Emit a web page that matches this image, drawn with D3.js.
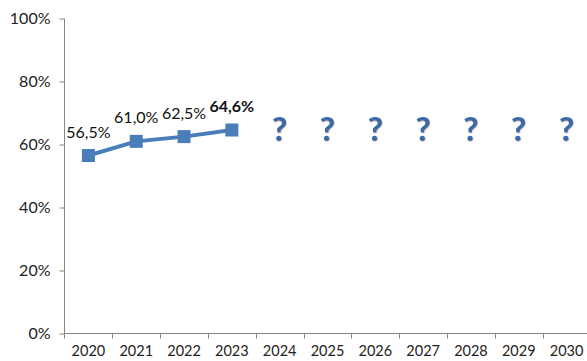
<!DOCTYPE html>
<html>
<head>
<meta charset="utf-8">
<script src="https://cdn.jsdelivr.net/npm/d3@7/dist/d3.min.js"></script>
<style>
  body { margin: 0; background: #fff; }
  text { font-family: Lato, "Open Sans", sans-serif; }
</style>
</head>
<body>
<div id="chart"></div>
<script>
// chart data
var years = ["2020", "2021", "2022", "2023", "2024", "2025", "2026", "2027", "2028", "2029", "2030"];
var knownYears = ["2020", "2021", "2022", "2023"];
var knownValues = [56.5, 61.0, 62.5, 64.6];
var valueLabels = ["56,5%", "61,0%", "62,5%", "64,6%"];
var unknownYears = ["2024", "2025", "2026", "2027", "2028", "2029", "2030"];
var unknownValue = 65.5;
var yTicks = [0, 20, 40, 60, 80, 100];

var W = 587, H = 361;
var axisColor = "#868686", lineColor = "#4a7ebb";

var svg = d3.select("#chart").append("svg").attr("width", W).attr("height", H);

var x = d3.scaleBand().domain(years).range([64.5, 590.5]);
var y = d3.scaleLinear().domain([0, 100]).range([333.5, 18.5]);

// y axis
var yAxis = d3.axisLeft(y).tickValues(yTicks).tickSize(5).tickPadding(9)
  .tickFormat(function(d) { return d + "%"; });
var gy = svg.append("g").attr("transform", "translate(64.5,0)").call(yAxis);
gy.select(".domain").attr("stroke", axisColor).attr("d", "M0," + y(100) + "V" + y(0));
gy.selectAll(".tick line").attr("stroke", axisColor);
gy.selectAll(".tick text").attr("fill", "#222").style("font-size", "16px");

// x axis: ticks between categories
var gx = svg.append("g").attr("transform", "translate(0," + y(0) + ")");
gx.append("line").attr("x1", 64.5).attr("x2", W).attr("stroke", axisColor).attr("stroke-width", 1.2);
gx.selectAll(".xt").data(years).enter().append("line")
  .attr("x1", function(d) { return Math.round(x(d) + x.bandwidth()) + 0.5; })
  .attr("x2", function(d) { return Math.round(x(d) + x.bandwidth()) + 0.5; })
  .attr("y1", 0).attr("y2", 5).attr("stroke", axisColor);
gx.append("line").attr("x1", 64.5).attr("x2", 64.5).attr("y1", 0).attr("y2", 5).attr("stroke", axisColor);
gx.selectAll(".xl").data(years).enter().append("text")
  .attr("x", function(d) { return x(d) + x.bandwidth() / 2; })
  .attr("y", 22).attr("text-anchor", "middle").attr("fill", "#222")
  .style("font-size", "14.5px").text(function(d) { return d; });

// line + markers
var pts = knownYears.map(function(d, i) { return [x(d) + x.bandwidth() / 2, y(knownValues[i])]; });
svg.append("path").attr("d", d3.line()(pts)).attr("fill", "none")
  .attr("stroke", lineColor).attr("stroke-width", 4);
svg.selectAll(".mk").data(pts).enter().append("rect")
  .attr("x", function(d) { return d[0] - 6.5; }).attr("y", function(d) { return d[1] - 6.5; })
  .attr("width", 13).attr("height", 13).attr("fill", lineColor);

// value labels
svg.selectAll(".vl").data(pts).enter().append("text")
  .attr("x", function(d) { return d[0]; }).attr("y", function(d) { return d[1] - 18; })
  .attr("text-anchor", "middle").attr("fill", "#111").style("font-size", "16px")
  .style("font-weight", function(d, i) { return i == pts.length - 1 ? "bold" : "normal"; })
  .text(function(d, i) { return valueLabels[i]; });

// question marks for unknown years
var defs = svg.append("defs");
var f = defs.append("filter").attr("id", "sh").attr("x", "-20%").attr("y", "-20%").attr("width", "140%").attr("height", "140%");
f.append("feDropShadow").attr("dx", 0.6).attr("dy", 0.8).attr("stdDeviation", 0.6).attr("flood-color", "#c98a70").attr("flood-opacity", 0.5);
svg.selectAll(".q").data(unknownYears).enter().append("text")
  .attr("x", function(d) { return x(d) + x.bandwidth() / 2; })
  .attr("y", y(unknownValue) + 14)
  .attr("text-anchor", "middle").attr("fill", "#3a6aa8")
  .attr("filter", "url(#sh)")
  .style("font-size", "33px").style("font-weight", "900").text("?");
</script>
</body>
</html>
